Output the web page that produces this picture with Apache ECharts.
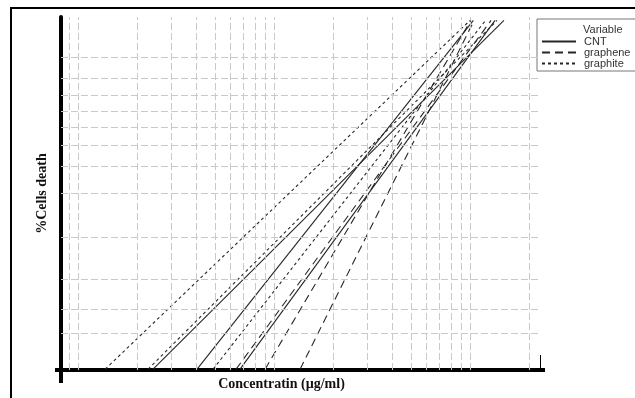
<!DOCTYPE html>
<html>
<head>
<meta charset="utf-8">
<script src="https://cdn.jsdelivr.net/npm/echarts@6/dist/echarts.min.js"></script>
<style>
html, body { margin: 0; padding: 0; background: #fff; }
#chart { width: 635px; height: 398px; }
</style>
</head>
<body>
<div id="chart"></div>
<script>
// Weibull probability paper: percent -> ln(-ln(1-p))
function wb(p) { return Math.log(-Math.log(1 - p / 100)) }

// grid positions (concentration, log axis) and percent levels
const xGridValues = [0.45, 0.5, 1, 1.5, 2, 2.5, 3, 3.5, 4, 4.5, 5, 10, 15, 20, 25, 30, 35, 40, 45, 50, 100]
const yGridPercents = [2, 3, 5, 10, 20, 30, 40, 50, 60, 70, 80, 90]

// each line: [concentration, %cells death] at its two ends
const cntLines = [
    [[1.207, 1.08], [74.5, 98.7]],
    [[2.024, 1.08], [52.0, 98.7]],
    [[3.354, 1.08], [67.1, 98.7]]
]
const grapheneLines = [
    [[3.20, 1.08], [64.0, 98.7]],
    [[4.50, 1.08], [50.5, 98.7]],
    [[6.79, 1.08], [52.5, 98.7]]
]
const graphiteLines = [
    [[0.687, 1.08], [50.0, 98.7]],
    [[1.138, 1.08], [68.7, 98.7]],
    [[2.443, 1.08], [60.0, 98.7]]
]

const lineColor = '#262626'
const styles = {
    CNT: 'solid',
    graphene: [8, 5],
    graphite: [3, 3]
}

var chart = echarts.init(document.getElementById('chart'), null, {renderer: 'canvas'})

var series = []

// dashed grid drawn as mark lines on the axes' own scales
series.push({
    type: 'line',
    data: [],
    silent: true,
    markLine: {
        silent: true,
        symbol: ['none', 'none'],
        label: {show: false},
        animation: false,
        lineStyle: {color: '#c9c9c9', width: 1, type: [7, 3]},
        data: xGridValues.map(v => ({xAxis: v})).concat(yGridPercents.map(p => ({yAxis: wb(p)})))
    }
})

function addLines(name, lines) {
    lines.forEach(l => {
        series.push({
            name: name,
            type: 'line',
            symbol: 'none',
            silent: true,
            animation: false,
            data: l.map(pt => [pt[0], wb(pt[1])]),
            lineStyle: {color: lineColor, width: 1.1, type: styles[name]},
            itemStyle: {color: lineColor}
        })
    })
}
addLines('CNT', cntLines)
addLines('graphene', grapheneLines)
addLines('graphite', graphiteLines)

var option = {
    animation: false,
    grid: {left: 61, right: 95, top: 17, bottom: 28},
    title: {
        text: 'Variable',
        left: 583, top: 24, padding: 0,
        textStyle: {fontSize: 11, fontWeight: 'normal', color: '#333', fontFamily: 'Liberation Sans'}
    },
    legend: {
        orient: 'vertical',
        left: 537, top: 19,
        padding: [17, 12, 2, 4],
        itemGap: 0,
        itemWidth: 34,
        itemHeight: 10,
        borderColor: '#777',
        borderWidth: 1,
        itemStyle: {opacity: 0},
        data: ['CNT', 'graphene', 'graphite'],
        textStyle: {fontSize: 11, color: '#333', fontFamily: 'Liberation Sans', padding: [0, 0, 0, 3]}
    },
    xAxis: {
        type: 'log',
        min: 0.409,
        max: 113.8,
        name: 'Concentratin (µg/ml)',
        nameLocation: 'middle',
        nameGap: 7,
        nameTextStyle: {fontFamily: 'Liberation Serif', fontWeight: 'bold', fontSize: 14, color: '#111', padding: [0, 38, 0, 0]},
        axisLine: {onZero: false, lineStyle: {color: '#000', width: 4}},
        axisTick: {show: false},
        axisLabel: {show: false},
        splitLine: {show: false}
    },
    yAxis: {
        type: 'value',
        min: wb(1.065),
        max: wb(99),
        name: '%Cells death',
        nameLocation: 'middle',
        nameGap: 12,
        nameTextStyle: {fontFamily: 'Liberation Serif', fontWeight: 'bold', fontSize: 14, color: '#111'},
        axisLine: {show: true, onZero: false, lineStyle: {color: '#000', width: 4}},
        axisTick: {show: false},
        axisLabel: {show: false},
        splitLine: {show: false}
    },
    graphic: [
        // outer frame
        {type: 'rect', shape: {x: 11, y: 8, width: 640, height: 400}, style: {fill: 'none', stroke: '#000', lineWidth: 2}, silent: true},
        // axis overshoots and end tick
        {type: 'rect', shape: {x: 59, y: 370, width: 4, height: 13}, style: {fill: '#000'}, silent: true},
        {type: 'rect', shape: {x: 55, y: 368, width: 6, height: 4}, style: {fill: '#000'}, silent: true},
        {type: 'rect', shape: {x: 540, y: 368, width: 5, height: 4}, style: {fill: '#000'}, silent: true},
        {type: 'line', shape: {x1: 540.5, y1: 355, x2: 540.5, y2: 368}, style: {stroke: '#000', lineWidth: 1}, silent: true}
    ],
    series: series
}

chart.setOption(option)
</script>
</body>
</html>
